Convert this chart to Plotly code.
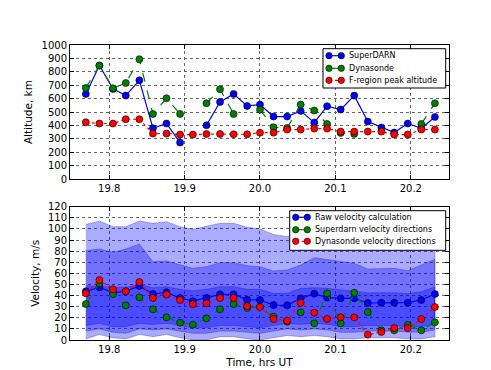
import plotly.graph_objects as go
from plotly.subplots import make_subplots

# ---------------- data ----------------
time_hrs = [19.769, 19.787, 19.805, 19.822, 19.840, 19.858, 19.876, 19.894, 19.911,
            19.929, 19.947, 19.965, 19.983, 20.000, 20.018, 20.036, 20.054, 20.072,
            20.089, 20.107, 20.125, 20.143, 20.161, 20.178, 20.196, 20.214, 20.232]

# top panel: altitude, km
superdarn_alt = [635, 847, 673, 623, 737, 380, 415, 273, None,
                 402, 576, 635, 546, 556, 467, 467, 509, 422,
                 544, 519, 623, 430, 385, 348, 415, 380, 464]
dynasonde_alt = [680, 847, 678, 717, 894, 486, 603, 486, None,
                 566, 670, 486, None, 518, 387, 382, 556, 512,
                 412, 345, 337, None, None, None, None, 412, 566]
fregion_alt = [424, 415, 415, 447, 447, 340, 340, 333, 333,
               337, 337, 335, 335, 347, 347, 370, 370, 377,
               377, 355, 355, 355, 355, 333, 333, 370, 370]

# bottom panel: velocity, m/s
raw_vel = [43.8, 47.4, 42.6, 43.8, 48.6, 41.4, 42.9, 37.8, 35.0,
           37.8, 41.1, 41.1, 36.3, 36.0, 31.5, 31.2, 37.5, 41.7,
           38.1, 37.5, 37.5, 33.3, 33.6, 33.6, 33.6, 36.0, 41.4]
superdarn_vel = [32.4, 51.0, 41.4, 31.2, 38.4, 27.6, 20.4, 15.6, 13.8,
                 19.5, 27.6, 32.4, 28.8, 29.7, 21.0, 16.5, 24.9, 15.0,
                 42.0, 15.0, 42.6, 25.2, 8.7, 8.7, 13.5, 8.7, 15.9]
dynasonde_vel = [42.0, 54.0, 45.6, 43.8, 52.2, 37.8, 40.8, 36.0, 32.1,
                 33.0, 37.8, 37.8, 30.6, 29.7, 18.9, 17.4, 33.6, 24.6,
                 18.9, 20.4, 20.4, 4.8, 7.2, 10.8, 10.8, 18.9, 29.7]

# spread bands (inner, middle, outer)
band_inner_hi = [48.9, 48.6, 47.4, 47.4, 50.1, 47.1, 48.0, 45.6, 44.4,
                 45.6, 48.0, 48.0, 45.6, 45.6, 42.0, 42.0, 46.5, 47.1,
                 46.5, 45.0, 44.1, 42.6, 42.6, 42.6, 41.7, 43.5, 47.7]
band_inner_lo = [13, 15, 12, 12, 15, 14, 15, 13, 11,
                 11, 13, 13, 12, 11, 13, 15, 14, 15,
                 14, 12, 12, 13, 13, 13, 12, 12, 14]
band_mid_hi = [80.4, 81.9, 78.9, 81.9, 86.4, 70.5, 71.1, 67.5, 64.5,
               66.0, 69.6, 69.6, 66.9, 66.0, 62.1, 63.0, 67.5, 74.0,
               72.6, 70.5, 69.0, 63.9, 64.5, 64.5, 62.4, 67.5, 72.6]
band_mid_lo = [8, 10, 7, 6, 10, 9, 10, 8, 6,
               6, 8, 8, 7, 6, 8, 10, 9, 10,
               9, 7, 7, 8, 8, 8, 7, 7, 9]
band_out_hi = [104, 107, 102, 102, 107, 105, 106.5, 102, 99.6,
               102, 105, 105, 101.5, 100, 95, 93, 97, 99,
               100, 98, 97, 94, 95, 94, 93, 97, 100]
band_out_lo = [1, 5, 2, 1, 5, 3, 5, 2, 0,
               0, 3, 3, 1, 0, 2, 4, 3, 4,
               3, 1, 1, 2, 2, 2, 1, 1, 3]

x_ticks = [19.8, 19.9, 20.0, 20.1, 20.2]
alt_ticks = list(range(0, 1001, 100))
vel_ticks = list(range(0, 121, 10))

top_legend_labels = ["SuperDARN", "Dynasonde", "F-region peak altitude"]
bottom_legend_labels = ["Raw velocity calculation", "Superdarn velocity directions",
                        "Dynasonde velocity directions"]

# ---------------- figure ----------------
W, H = 491, 370
ML, MR, MT, MB = 62, 50, 37, 38
PW, PH = W - ML - MR, H - MT - MB

fig = make_subplots(rows=2, cols=1, vertical_spacing=0.09)
fig.update_layout(
    yaxis=dict(domain=[0.545, 1.0]),
    yaxis2=dict(domain=[0.0, 0.452]),
)

FONT = "DejaVu Sans, Liberation Sans, Arial, sans-serif"
BLUE = "rgb(0,0,255)"
GREEN = "rgb(0,128,0)"
RED = "rgb(255,0,0)"
COLORS = [BLUE, GREEN, RED]
DASHES = ["solid", "dash", "dot"]
MK = dict(size=7, line=dict(color="black", width=0.6))

# top panel
top_series = [superdarn_alt, dynasonde_alt, fregion_alt]
for ys, name, c, d in zip(top_series, top_legend_labels, COLORS, DASHES):
    fig.add_trace(go.Scatter(x=time_hrs, y=ys, mode="lines+markers", name=name,
                             line=dict(color=c, width=1.2, dash=d), marker=dict(color=c, **MK),
                             connectgaps=False, showlegend=False), row=1, col=1)

# bottom panel bands
FILL = "rgba(0,0,255,0.33)"
EDGE = "rgba(0,0,170,0.35)"
for hi, lo in [(band_out_hi, band_out_lo), (band_mid_hi, band_mid_lo), (band_inner_hi, band_inner_lo)]:
    fig.add_trace(go.Scatter(x=time_hrs + time_hrs[::-1], y=hi + lo[::-1], mode="lines",
                             fill="toself", fillcolor=FILL, line=dict(color=EDGE, width=0.8),
                             showlegend=False, hoverinfo="skip"), row=2, col=1)

bottom_series = [raw_vel, superdarn_vel, dynasonde_vel]
for ys, name, c, d in zip(bottom_series, bottom_legend_labels, COLORS, DASHES):
    fig.add_trace(go.Scatter(x=time_hrs, y=ys, mode="lines+markers", name=name,
                             line=dict(color=c, width=1.2, dash=d), marker=dict(color=c, **MK),
                             showlegend=False), row=2, col=1)

axis_common = dict(showline=True, linecolor="black", linewidth=1, mirror="allticks",
                   ticks="inside", ticklen=4, tickcolor="black", tickwidth=1,
                   showgrid=True, gridcolor="#666", gridwidth=0.7, griddash="dot",
                   zeroline=False, tickfont=dict(family=FONT, size=10, color="black"))

for r in (1, 2):
    fig.update_xaxes(range=[19.748, 20.2507], tickvals=x_ticks,
                     ticktext=[f"{v:.1f}" for v in x_ticks], row=r, col=1, **axis_common)
fig.update_yaxes(range=[0, 1000], tickvals=alt_ticks, row=1, col=1,
                 title=dict(text="Altitude, km", font=dict(family=FONT, size=10.5, color="black"), standoff=6),
                 **axis_common)
fig.update_yaxes(range=[0, 120], tickvals=vel_ticks, row=2, col=1,
                 title=dict(text="Velocity, m/s", font=dict(family=FONT, size=10.5, color="black"), standoff=6),
                 **axis_common)
fig.update_xaxes(title=dict(text="Time, hrs UT", font=dict(family=FONT, size=10.5, color="black"), standoff=4),
                 row=2, col=1)


# ---------------- hand-drawn legends (matplotlib style, compact) ----------------
def fx(px):
    return (px - ML) / PW


def fy(py):
    return (H - MB - py) / PH


shapes = []
annotations = []


def add_legend(box, rows_y, mark_x, text_x, labels):
    x0, y0, x1, y1 = box
    shapes.append(dict(type="rect", xref="paper", yref="paper",
                       x0=fx(x0), x1=fx(x1), y0=fy(y1), y1=fy(y0),
                       fillcolor="white", line=dict(color="black", width=1), layer="above"))
    for ry, lab, c, d in zip(rows_y, labels, COLORS, DASHES):
        shapes.append(dict(type="line", xref="paper", yref="paper",
                           x0=fx(mark_x[0]), x1=fx(mark_x[1]), y0=fy(ry), y1=fy(ry),
                           line=dict(color=c, width=1.2, dash=d), layer="above"))
        for mx in mark_x:
            shapes.append(dict(type="circle", xref="paper", yref="paper",
                               xsizemode="pixel", ysizemode="pixel",
                               xanchor=fx(mx), yanchor=fy(ry),
                               x0=-3.2, x1=3.2, y0=-3.2, y1=3.2,
                               fillcolor=c, line=dict(color="black", width=0.6), layer="above"))
        annotations.append(dict(xref="paper", yref="paper", x=fx(text_x), y=fy(ry),
                                xanchor="left", yanchor="middle", showarrow=False,
                                text=lab, font=dict(family=FONT, size=8, color="black")))


add_legend((315, 40.7, 437.7, 80), [47.7, 60.3, 72.3], [321, 333.3], 339, top_legend_labels)
add_legend((281.7, 202.7, 437.7, 242.3), [209.3, 221.7, 233.3], [287.7, 299.3], 305,
           bottom_legend_labels)

fig.update_layout(
    width=W, height=H,
    margin=dict(l=ML, r=MR, t=MT, b=MB),
    paper_bgcolor="white", plot_bgcolor="white",
    font=dict(family=FONT, size=10, color="black"),
    showlegend=False,
    shapes=shapes,
    annotations=annotations,
)

fig.write_html("out.html")
